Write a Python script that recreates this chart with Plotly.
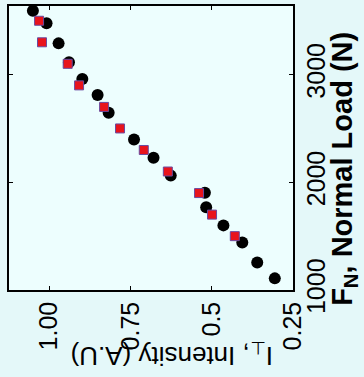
import plotly.graph_objects as go

# Black circles
circle_load = [3592, 3477, 3290, 3114, 2960, 2810, 2646, 2397, 2228, 2062, 1902, 1769, 1600, 1440, 1256, 1108]
circle_int = [1.050, 1.008, 0.971, 0.939, 0.898, 0.851, 0.817, 0.739, 0.679, 0.626, 0.521, 0.517, 0.464, 0.406, 0.360, 0.306]

# Red squares
square_load = [3500, 3300, 3100, 2900, 2700, 2500, 2300, 2100, 1900, 1700, 1500]
square_int = [1.031, 1.022, 0.943, 0.908, 0.831, 0.782, 0.709, 0.635, 0.539, 0.499, 0.429]

int_ticks = [1.00, 0.75, 0.5, 0.25]
int_ticklabels = ["1.00", "0.75", "0.5", "0.25"]
load_ticks = [1000, 2000, 3000]
load_ticklabels = ["1000", "2000", "3000"]

fig = go.Figure()
fig.add_trace(go.Scatter(
    x=circle_int, y=circle_load, mode="markers",
    marker=dict(symbol="circle", size=12, color="black", line=dict(width=0)),
    showlegend=False))
fig.add_trace(go.Scatter(
    x=square_int, y=square_load, mode="markers",
    marker=dict(symbol="square", size=9, color="#E8141C", line=dict(width=1, color="#6A4AA0")),
    showlegend=False))

fig.update_layout(
    width=364, height=377,
    margin=dict(l=9, r=71, t=4, b=87),
    paper_bgcolor="#E4F8F9",
    plot_bgcolor="#EDFEFE",
    font=dict(family="Liberation Sans, Arial, sans-serif", color="black"),
    xaxis=dict(
        range=[1.1235, 0.25], tickvals=int_ticks, ticktext=int_ticklabels,
        tickangle=-90, tickfont=dict(size=25),
        ticks="inside", ticklen=4, tickcolor="black", tickwidth=1,
        showline=True, linecolor="black", linewidth=1.5, mirror="ticks",
        showgrid=False, zeroline=False),
    yaxis=dict(
        range=[1000, 3637], side="right", tickvals=load_ticks, ticktext=load_ticklabels,
        tickangle=-90, tickfont=dict(size=25),
        ticks="inside", ticklen=4, tickcolor="black", tickwidth=1,
        showline=True, linecolor="black", linewidth=1.5, mirror="ticks",
        showgrid=False, zeroline=False),
    annotations=[
        dict(text="I<sub>⊥</sub>, Intensity (A.U)", xref="paper", yref="paper",
             x=(172 - 9) / 284, y=(290 - 355) / 286, showarrow=False,
             textangle=180, font=dict(size=26), xanchor="center", yanchor="middle"),
        dict(text="<b>F<sub>N</sub>, Normal Load (N)</b>", xref="paper", yref="paper",
             x=(344 - 9) / 284, y=(290 - 168) / 286, showarrow=False,
             textangle=-90, font=dict(size=29), xanchor="center", yanchor="middle"),
    ],
)

fig.write_html("out.html")
